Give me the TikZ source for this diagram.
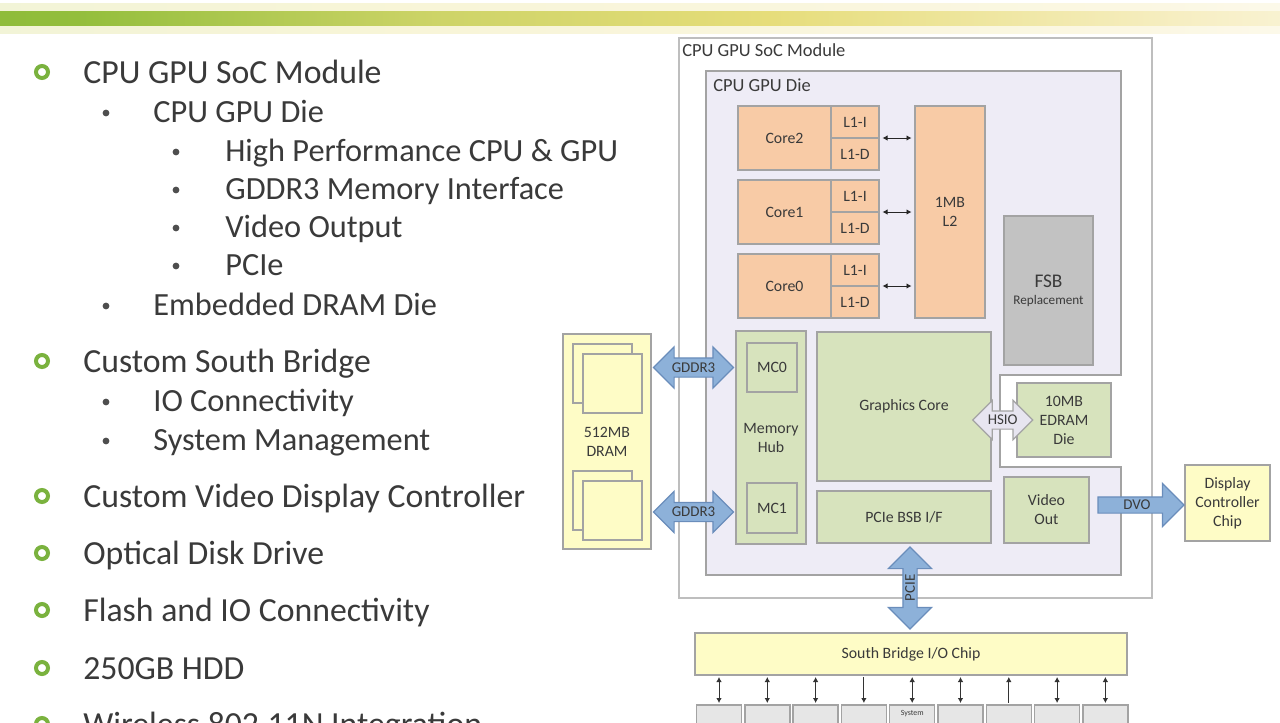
\documentclass[tikz,border=0pt]{standalone}
\usepackage{fontspec}
\setmainfont{Carlito}
\usetikzlibrary{arrows.meta,shapes.arrows,calc}
\definecolor{slideInk}{HTML}{3A3A3A}
\definecolor{slideGreen}{HTML}{7AB23E}
\definecolor{barGreen}{HTML}{6BA92F}
\definecolor{barLime}{HTML}{93BE3C}
\definecolor{barYellow}{HTML}{E6DD7A}
\definecolor{barPale}{HTML}{F7EFC6}
\definecolor{boxLine}{HTML}{A3A3A3}
\definecolor{frameLine}{HTML}{BEBEBE}
\definecolor{dieFill}{HTML}{EEECF6}
\definecolor{coreFill}{HTML}{F8CBA6}
\definecolor{gfxFill}{HTML}{D7E3BD}
\definecolor{fsbFill}{HTML}{C2C2C2}
\definecolor{chipFill}{HTML}{FEFCC6}
\definecolor{ioFill}{HTML}{E6E6E6}
\definecolor{busFill}{HTML}{8DB1D9}
\definecolor{busLine}{HTML}{6A8DBB}
\definecolor{hsioFill}{HTML}{E7E5F0}
\pgfdeclarehorizontalshading{topbar}{100bp}{color(0bp)=(barGreen); color(28bp)=(barLime); color(42bp)=(barYellow!70!barLime); color(55bp)=(barYellow); color(72bp)=(barPale); color(88bp)=(white); color(100bp)=(white)}
\pgfdeclarehorizontalshading{topglow}{100bp}{color(0bp)=(barLime!20); color(40bp)=(barYellow!30); color(70bp)=(barPale!50); color(90bp)=(white); color(100bp)=(white)}
\tikzset{
  every picture/.style={text=slideInk},
  px size/.style 2 args={minimum width=#1*0.2mm, minimum height=#2*0.2mm},
  unit box/.style={draw=boxLine, line width=0.9pt, outer sep=0pt, inner sep=1pt,
    align=center, font=\fontsize{9}{10.8}\selectfont},
  core box/.style={unit box, fill=coreFill},
  gfx box/.style={unit box, fill=gfxFill},
  chip box/.style={unit box, fill=chipFill},
  io box/.style={unit box, fill=ioFill, anchor=north, px size={45}{40}},
  bus arrow/.style={draw=busLine, fill=busFill, line width=0.7pt,
    inner sep=0pt, outer sep=0pt},
  bus text/.style={inner sep=0pt, font=\fontsize{8.5}{9}\selectfont},
  link arrow/.style={{Latex[length=1mm,width=1.1mm]}-{Latex[length=1mm,width=1.1mm]},
    draw=black!85, line width=0.5pt, shorten <=0.7mm, shorten >=0.7mm},
  io arrow/.style={draw=black!80, line width=0.5pt, shorten <=0.4mm, shorten >=0.4mm},
  item one/.style={anchor=base west, inner sep=0pt, font=\fontsize{19.2}{23}\selectfont},
  item two/.style={anchor=base west, inner sep=0pt, font=\fontsize{18.4}{22}\selectfont},
  ring bullet/.style={draw=slideGreen, line width=0.8mm},
  dot bullet/.style={fill=slideInk!90},
  region label/.style={anchor=west, inner sep=0pt, font=\fontsize{10.5}{12}\selectfont}
}
% invisible strut that sets a bus shaft thickness
\newcommand{\shaft}[1]{\rule{0pt}{#1}}

\begin{document}
\begin{tikzpicture}[x=0.2mm,y=-0.2mm,>={Latex[length=1mm,width=1.1mm]}]
  \useasboundingbox (0,0) rectangle (1280,722);
  \clip (0,0) rectangle (1280,722);
  \fill[white] (0,0) rectangle (1280,722);
  \shade[shading=topglow] (0,3) rectangle (1280,33);
  \shade[shading=topbar] (0,11) rectangle (1280,25);

  % bullet list
  \foreach \y/\t in {72/CPU GPU SoC Module, 361/Custom South Bridge,
      496/Custom Video Display Controller, 553/Optical Disk Drive,
      610/Flash and IO Connectivity, 668/250GB HDD, 724/Wireless 802.11N Integration}{
    \draw[ring bullet] (42,\y) circle[radius=6];
    \node[item one] (item\y) at (83,\y+11) {\t};
  }
  \foreach \y/\t in {111/CPU GPU Die, 304/Embedded DRAM Die,
      400/IO Connectivity, 439/System Management}{
    \fill[dot bullet] (106,\y+2) circle[radius=3.4];
    \node[item two] (sub\y) at (153,\y+11) {\t};
  }
  \foreach \y/\t in {150/High Performance CPU \& GPU, 188/GDDR3 Memory Interface,
      226/Video Output, 264/PCIe}{
    \fill[dot bullet] (176,\y+2) circle[radius=3.4];
    \node[item two] (subsub\y) at (225,\y+11) {\t};
  }

  % SoC module and die
  \draw[frameLine, line width=1pt, fill=white] (679,38) rectangle (1152,598);
  \node[region label] (socLabel) at (682,50) {CPU GPU SoC Module};
  \draw[boxLine, line width=1pt, fill=dieFill] (706,71) -- (1121,71) -- (1121,375)
    -- (1000,375) -- (1000,467) -- (1121,467) -- (1121,575) -- (706,575) -- cycle;
  \node[region label] (dieLabel) at (713,85) {CPU GPU Die};

  % CPU cores and caches
  \node[core box, px size={70}{212}] (l2) at (950,212) {1MB\\L2};
  \foreach \n/\y in {2/138,1/212,0/286}{
    \node[core box, px size={93}{64}] (core\n) at (784.5,\y) {Core\n};
    \node[core box, px size={48}{32}, anchor=south west] (l1i\n) at (core\n.east) {L1-I};
    \node[core box, px size={48}{32}, anchor=north west] (l1d\n) at (core\n.east) {L1-D};
    \draw[link arrow] (l1i\n.south east) -- (l2.west |- l1i\n.south east);
  }
  \node[unit box, fill=fsbFill, px size={89}{149}] (fsb) at (1048.5,290.5)
    {{\fontsize{11}{13}\selectfont FSB}\\[-1pt]{\fontsize{7.5}{9}\selectfont Replacement}};

  % memory
  \node[chip box, px size={88}{215}] (dram) at (607,441.5) {512MB\\DRAM};
  \foreach \y in {344,471}{
    \draw[boxLine, fill=chipFill, line width=0.7pt] (573,\y) rectangle ++(59,59);
    \draw[boxLine, fill=chipFill, line width=0.7pt] (583,\y+10) rectangle ++(59,59);
  }
  \node[gfx box, px size={70}{213}] (hub) at (771,437.5) {Memory\\Hub};
  \node[gfx box, px size={50}{49}] (mc0) at (772,367.5) {MC0};
  \node[gfx box, px size={50}{50}] (mc1) at (772,508) {MC1};

  % graphics side
  \node[gfx box, px size={174}{149}] (gfx) at (904,406.5) {Graphics Core};
  \node[gfx box, px size={174}{52}] (pcie) at (904,517) {PCIe BSB I/F};
  \node[gfx box, px size={85}{66}] (vout) at (1046.5,510) {Video\\Out};
  \node[gfx box, px size={94}{74}] (edram) at (1064,420) {10MB\\EDRAM\\Die};
  \node[chip box, px size={85}{76}] (disp) at (1227.5,503) {Display\\Controller\\Chip};

  % buses
  \node[bus arrow, double arrow, minimum height=16mm, minimum width=8mm,
    double arrow head extend=2.2mm, label={[bus text]center:GDDR3}] (gddrTop)
    at ($(dram.east |- mc0)!0.5!(hub.west |- mc0)$) {\shaft{3.6mm}};
  \node[bus arrow, double arrow, minimum height=16mm, minimum width=8mm,
    double arrow head extend=2.2mm, label={[bus text]center:GDDR3}] (gddrBot)
    at ($(dram.east |- 0,512)!0.5!(hub.west |- 0,512)$) {\shaft{3.6mm}};
  \node[bus arrow, double arrow, draw=boxLine, fill=hsioFill, minimum height=12mm,
    minimum width=7.6mm, double arrow head extend=2.1mm,
    label={[bus text]center:HSIO}] (hsio)
    at ($(gfx.east |- edram)!0.45!(edram.west)$) {\shaft{3.4mm}};
  \node[bus arrow, single arrow, minimum height=17.2mm, minimum width=8.4mm,
    single arrow head extend=2.7mm, label={[bus text]center:DVO}] (dvo)
    at ($(vout.east |- 0,505)!0.5!(disp.west |- 0,505)$) {\shaft{3mm}};

  % south bridge
  \node[chip box, px size={432}{42}] (sb) at (911,654) {South Bridge I/O Chip};
  \node[bus arrow, double arrow, rotate=90, minimum height=16.4mm, minimum width=8.4mm,
    double arrow head extend=2.9mm] (pcieBus)
    at ($(pcie.south -| 910,0)!0.5!(sb.north -| 910,0)$) {\shaft{2.6mm}};
  \node[bus text, rotate=90] (pcieText) at (pcieBus) {PCIE};
  \foreach \i in {1,...,9}{
    \node[io box] (io\i) at ({719+48.3*(\i-1)},705) {};
  }
  \node[inner sep=0pt, font=\fontsize{4.5}{5}\selectfont] (ioSys) at (io5.north |- 0,714) {System};
  \foreach \i in {1,2,3,5,6,8,9}{
    \draw[io arrow, <->] (sb.south -| io\i.north) -- (io\i.north);
  }
  \draw[io arrow, ->] (sb.south -| io4.north) -- (io4.north);
  \draw[io arrow, <-] (sb.south -| io7.north) -- (io7.north);
\end{tikzpicture}
\end{document}
